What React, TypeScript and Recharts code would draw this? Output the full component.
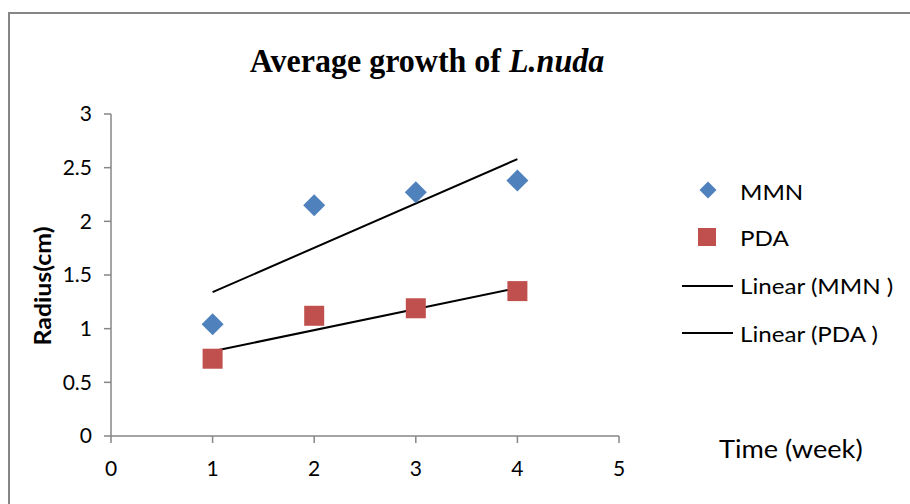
import { ScatterChart, Scatter, XAxis, YAxis } from "recharts";

const weeks = [1, 2, 3, 4];
const mmnRadius = [1.04, 2.15, 2.27, 2.38];
const pdaRadius = [0.72, 1.12, 1.19, 1.35];

// trend line end points
const trendWeeks = [1, 4];
const mmnTrend = [1.34, 2.58];
const pdaTrend = [0.79, 1.38];

const xTicks = [0, 1, 2, 3, 4, 5];
const yTicks = [0, 0.5, 1, 1.5, 2, 2.5, 3];

const BLUE = "#4F81BD";
const RED = "#C0504D";
const AXIS = "#868686";
const FONT = "Lato, 'Open Sans', sans-serif";

const mmnData = weeks.map((x, i) => ({ x, y: mmnRadius[i] }));
const pdaData = weeks.map((x, i) => ({ x, y: pdaRadius[i] }));
const mmnTrendData = trendWeeks.map((x, i) => ({ x, y: mmnTrend[i] }));
const pdaTrendData = trendWeeks.map((x, i) => ({ x, y: pdaTrend[i] }));

const Diamond = (props: any) => {
  const { cx, cy } = props;
  const r = 11;
  return <path d={`M${cx},${cy - r}L${cx + r},${cy}L${cx},${cy + r}L${cx - r},${cy}Z`} fill={BLUE} />;
};

const Square = (props: any) => {
  const { cx, cy } = props;
  const s = 20;
  return <rect x={cx - s / 2} y={cy - s / 2} width={s} height={s} fill={RED} />;
};

const NoDot = () => <g />;

const legendText = {
  position: "absolute" as const,
  left: 740,
  fontFamily: FONT,
  fontSize: 21,
  color: "#000",
  lineHeight: "24px",
  whiteSpace: "nowrap" as const,
  transform: "scaleX(1.15)",
  transformOrigin: "left center",
};

export default function App() {
  return (
    <div style={{ position: "absolute", left: 0, top: 0, width: 910, height: 504, background: "#fff", overflow: "hidden" }}>
      <div
        style={{
          position: "absolute",
          left: 8,
          top: 12,
          width: 920,
          height: 520,
          borderLeft: `2px solid ${AXIS}`,
          borderTop: `2px solid ${AXIS}`,
        }}
      />
      <ScatterChart width={910} height={504} margin={{ top: 114, right: 291, bottom: 28, left: 51 }}>
        <XAxis
          type="number"
          dataKey="x"
          domain={[0, 5]}
          ticks={xTicks}
          height={40}
          stroke={AXIS}
          axisLine={{ stroke: AXIS, strokeWidth: 1.5 }}
          tickLine={{ stroke: AXIS, strokeWidth: 1.5 }}
          tickSize={7}
          tickMargin={18}
          tick={{ fill: "#000", fontSize: 21, fontFamily: FONT }}
        />
        <YAxis
          type="number"
          dataKey="y"
          domain={[0, 3]}
          ticks={yTicks}
          width={60}
          stroke={AXIS}
          axisLine={{ stroke: AXIS, strokeWidth: 1.5 }}
          tickLine={{ stroke: AXIS, strokeWidth: 1.5 }}
          tickSize={7}
          tickMargin={12}
          tick={{ fill: "#000", fontSize: 21, fontFamily: FONT }}
        />
        <Scatter name="Linear (MMN )" data={mmnTrendData} line={{ stroke: "#000", strokeWidth: 2 }} shape={NoDot} isAnimationActive={false} />
        <Scatter name="Linear (PDA )" data={pdaTrendData} line={{ stroke: "#000", strokeWidth: 2 }} shape={NoDot} isAnimationActive={false} />
        <Scatter name="MMN" data={mmnData} shape={Diamond} isAnimationActive={false} />
        <Scatter name="PDA" data={pdaData} shape={Square} isAnimationActive={false} />
      </ScatterChart>

      <div
        style={{
          position: "absolute",
          left: 0,
          width: 854,
          top: 43,
          textAlign: "center",
          fontFamily: "'Liberation Serif', 'Times New Roman', serif",
          fontWeight: "bold",
          fontSize: 33,
          lineHeight: "36px",
          color: "#000",
          transform: "scaleX(0.97)",
          transformOrigin: "427px 50%",
          whiteSpace: "nowrap",
        }}
      >
        Average growth of <i>L.nuda</i>
      </div>

      <div
        style={{
          position: "absolute",
          left: 42,
          top: 286,
          transform: "translate(-50%, -50%) rotate(-90deg) scaleX(1.08)",
          fontFamily: FONT,
          fontWeight: "bold",
          fontSize: 23,
          whiteSpace: "nowrap",
          color: "#000",
        }}
      >
        Radius(cm)
      </div>

      <div
        style={{
          position: "absolute",
          left: 719,
          top: 433,
          fontFamily: FONT,
          fontSize: 25,
          lineHeight: "30px",
          color: "#000",
          whiteSpace: "nowrap",
          transform: "scaleX(1.086)",
          transformOrigin: "left center",
        }}
      >
        Time (week)
      </div>

      {/* legend */}
      <svg style={{ position: "absolute", left: 0, top: 0 }} width={910} height={504}>
        <path d="M708,181.5L716.5,190L708,198.5L699.5,190Z" fill={BLUE} />
        <rect x={698} y={228} width={18} height={18} fill={RED} />
        <line x1={682} y1={286} x2={733} y2={286} stroke="#000" strokeWidth={2} />
        <line x1={682} y1={333} x2={733} y2={333} stroke="#000" strokeWidth={2} />
      </svg>
      <div style={{ ...legendText, top: 180 }}>MMN</div>
      <div style={{ ...legendText, top: 226 }}>PDA</div>
      <div style={{ ...legendText, top: 274 }}>Linear (MMN )</div>
      <div style={{ ...legendText, top: 322 }}>Linear (PDA )</div>
    </div>
  );
}
